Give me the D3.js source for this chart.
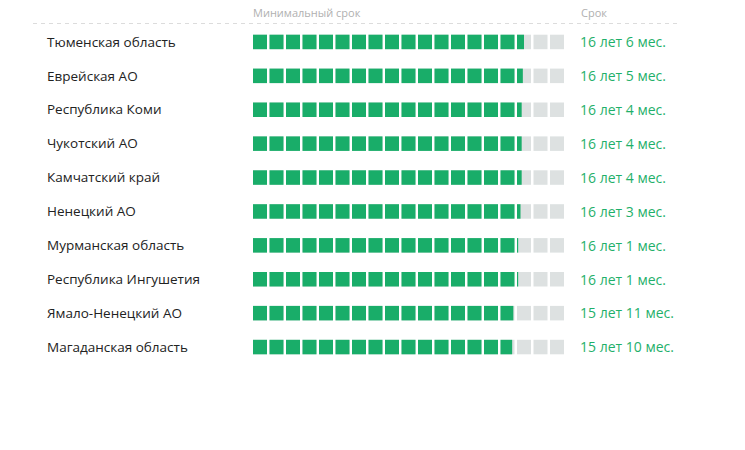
<!DOCTYPE html>
<html>
<head>
<meta charset="utf-8">
<script src="https://cdn.jsdelivr.net/npm/d3@7"></script>
<style>
  body { margin: 0; background: #fff; }
  svg { display: block; }
  text { font-family: "Open Sans", "Noto Sans", sans-serif; }
</style>
</head>
<body>
<svg id="svg" width="745" height="450"></svg>
<script>
// data
const regions = ["Тюменская область", "Еврейская АО", "Республика Коми", "Чукотский АО", "Камчатский край",
    "Ненецкий АО", "Мурманская область", "Республика Ингушетия", "Ямало-Ненецкий АО", "Магаданская область"];
const years = [16, 16, 16, 16, 16, 16, 16, 16, 15, 15];
const months = [6, 5, 4, 4, 4, 3, 1, 1, 11, 10];
const headers = ["Минимальный срок", "Срок"];
const maxYears = 19;

const svg = d3.select("#svg");
const green = "#19ad69";
const grey = "#dde1e1";

let x = d3.scaleLinear().domain([0, maxYears]).range([253, 253 + maxYears * 16.5]);
let y = d3.scaleBand().domain(regions).range([25, 364]).paddingInner(0).paddingOuter(0);
let cellW = x(1) - x(0) - 2.5;
let cellH = 14.5;

// header
svg.append("line")
    .attr("x1", 33).attr("x2", 679).attr("y1", 23.5).attr("y2", 23.5)
    .attr("stroke", "#dcdcdc").attr("stroke-dasharray", "4,4");
svg.append("text").attr("x", 253).attr("y", 17).text(headers[0])
    .attr("font-size", 11).attr("fill", "#b0b0b0");
svg.append("text").attr("x", 581).attr("y", 17).text(headers[1])
    .attr("font-size", 11).attr("fill", "#b0b0b0");

regions.forEach((r, i) => {
    let value = years[i] + months[i] / 12;
    let cy = y(r) + y.bandwidth() / 2;
    let g = svg.append("g");
    g.append("text").attr("x", 47).attr("y", cy).attr("dy", "0.35em")
        .attr("font-size", 13.5).attr("fill", "#222").text(r);
    let cells = d3.range(maxYears);
    g.selectAll("rect.bg").data(cells).join("rect").attr("class", "bg")
        .attr("x", d => x(d)).attr("y", cy - cellH / 2)
        .attr("width", cellW).attr("height", cellH).attr("fill", grey);
    g.selectAll("rect.fg").data(cells.filter(d => d < value)).join("rect").attr("class", "fg")
        .attr("x", d => x(d)).attr("y", cy - cellH / 2)
        .attr("width", d => cellW * Math.min(1, value - d)).attr("height", cellH).attr("fill", green);
    g.append("text").attr("x", 580).attr("y", cy).attr("dy", "0.38em")
        .attr("font-size", 14).attr("fill", "#1fb06a")
        .text(years[i] + " лет " + months[i] + " мес.");
});
</script>
</body>
</html>
